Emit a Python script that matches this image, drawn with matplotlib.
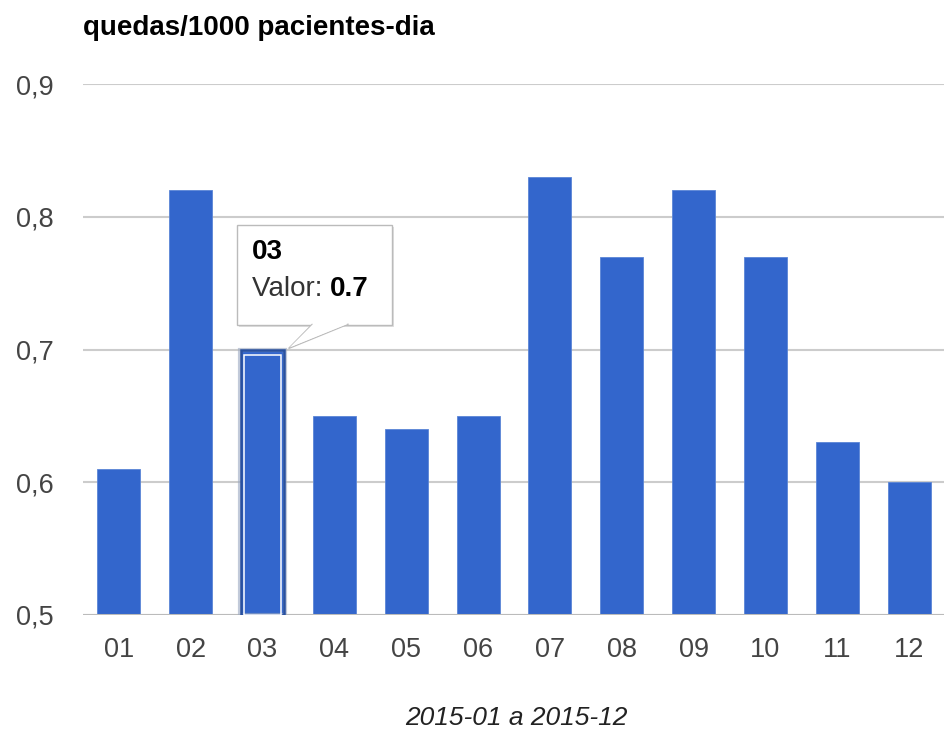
import matplotlib
matplotlib.use("Agg")
import matplotlib.pyplot as plt
from matplotlib.patches import Polygon, Rectangle, FancyBboxPatch
from matplotlib.transforms import IdentityTransform

categories = ["01", "02", "03", "04", "05", "06", "07", "08", "09", "10", "11", "12"]
values = [0.61, 0.82, 0.70, 0.65, 0.64, 0.65, 0.83, 0.77, 0.82, 0.77, 0.63, 0.60]
yticks = [0.5, 0.6, 0.7, 0.8, 0.9]
ytick_labels = ["0,5", "0,6", "0,7", "0,8", "0,9"]
title = "quedas/1000 pacientes-dia"
xlabel = "2015-01 a 2015-12"
highlight = 2
tooltip_value = "0.7"

plt.rcParams['font.family'] = ['Liberation Sans', 'DejaVu Sans']

W, H = 945, 733
fig = plt.figure(figsize=(W / 100, H / 100), dpi=100)
ax = fig.add_axes([83 / W, (H - 615) / H, (W - 83) / W, (615 - 84) / H])

BLUE = "#3366cc"
base = yticks[0]
x = list(range(len(categories)))
bars = ax.bar(x, [v - base for v in values], bottom=base, width=0.6, color=BLUE,
              edgecolor="#5b85d6", linewidth=0.6, zorder=3)

ax.set_xlim(-0.5, len(categories) - 0.5)
ax.set_ylim(yticks[0], yticks[-1])
ax.set_yticks(yticks)
ax.set_yticklabels(ytick_labels)
ax.set_xticks(x)
ax.set_xticklabels(categories)
for s in ax.spines.values():
    s.set_visible(False)
ax.grid(axis="y", color="#cccccc", linewidth=1.5, zorder=0)
ax.axhline(base, color="#bbbbbb", linewidth=2.2, zorder=4)
ax.tick_params(axis="both", length=0, labelsize=19.5, colors="#444444")
ax.tick_params(axis="y", pad=21)
ax.tick_params(axis="x", pad=16)

# highlighted bar
hb = bars[highlight]
hx, hw = hb.get_x(), hb.get_width()
hv = values[highlight]
ax.bar(highlight, hv - base, bottom=base, width=hw * 1.04, fill=False,
       edgecolor="#9aa8c0", linewidth=3.0, alpha=0.6, zorder=4.5)
ax.bar(highlight, hv - base, bottom=base, width=hw, fill=False,
       edgecolor="#2850a0", linewidth=1.8, zorder=5)
ax.bar(highlight, hv - base - 0.004, bottom=base, width=hw * 0.86, fill=False,
       edgecolor="white", linewidth=1.1, zorder=6)

fig.text(83 / W, 1 - 28 / H, title, fontsize=20, fontweight="bold", color="black",
         va="center", ha="left")
fig.text(516 / W, 1 - 718 / H, xlabel, fontsize=19, style="italic", color="#222222",
         ha="center", va="center")

# tooltip anchored at highlighted bar top
fig.canvas.draw()
ax_pt = ax.transData.transform((highlight, hv))
axx, axy = ax_pt
ident = IdentityTransform()
shadow = FancyBboxPatch((axx - 26 + 2, axy + 25 - 2), 155, 100, boxstyle="square,pad=0",
                        transform=ident, facecolor="#cccccc", edgecolor="none", alpha=0.6, zorder=9)
fig.patches.append(shadow)
box = Rectangle((axx - 26, axy + 25), 155, 100, transform=ident,
                facecolor="white", edgecolor="#bbbbbb", linewidth=1.0, zorder=10)
fig.patches.append(box)
tri = Polygon([(axx + 50, axy + 25.5), (axx + 26, axy + 1), (axx + 86, axy + 25.5)],
              closed=False, transform=ident, facecolor="white", edgecolor="#bbbbbb",
              linewidth=1.0, zorder=11)
fig.patches.append(tri)
cover = Polygon([(axx + 50.5, axy + 25.5), (axx + 27, axy + 2), (axx + 85, axy + 25.5)],
                closed=True, transform=ident, facecolor="white", edgecolor="none", zorder=12)
fig.patches.append(cover)

t1 = fig.text((axx - 11) / W, (axy + 98) / H, categories[highlight], fontsize=20,
              fontweight="bold", color="black", va="center", ha="left", zorder=13)
t2 = fig.text((axx - 11) / W, (axy + 61) / H, "Valor: ", fontsize=20, color="#333333",
              va="center", ha="left", zorder=13)
fig.canvas.draw()
bb = t2.get_window_extent()
fig.text(bb.x1 / W, (axy + 61) / H, tooltip_value, fontsize=20, fontweight="bold",
         color="black", va="center", ha="left", zorder=13)

fig.savefig("out.png", dpi=100)
